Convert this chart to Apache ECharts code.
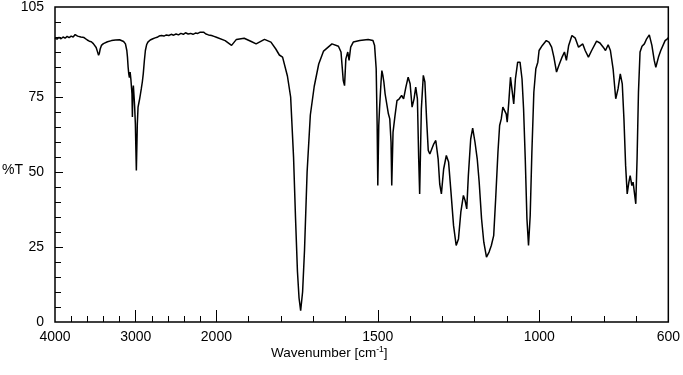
<!DOCTYPE html>
<html>
<head>
<meta charset="utf-8">
<script src="https://cdn.jsdelivr.net/npm/echarts@6/dist/echarts.min.js"></script>
<style>
  html, body { margin: 0; padding: 0; background: #fff; }
  #chart { width: 683px; height: 375px; }
</style>
</head>
<body>
<div id="chart"></div>
<script>
// 4000-2000 cm-1 (compressed part of the axis)
const highWn = [4000, 3975, 3950, 3925, 3900, 3875, 3850, 3825, 3800, 3775, 3750, 3735, 3720, 3700, 3680, 3660, 3640, 3620, 3600, 3575,
  3550, 3525, 3505, 3490, 3475, 3460, 3450, 3440, 3425, 3400, 3350, 3300, 3250, 3200, 3176, 3150, 3127, 3110, 3102, 3094,
  3086, 3078, 3069, 3060, 3053, 3046, 3041, 3036, 3029, 3020, 3013, 3004, 2998, 2992, 2986, 2980, 2971, 2961, 2951, 2941,
  2931, 2918, 2906, 2893, 2880, 2865, 2849, 2820, 2787, 2760, 2735, 2710, 2680, 2650, 2620, 2590, 2560, 2530, 2500, 2470,
  2440, 2410, 2383, 2350, 2320, 2290, 2260, 2230, 2200, 2180, 2159, 2130, 2098, 2060, 2030, 2000];
const highT = [94.6, 94.3, 94.9, 94.4, 95.0, 94.6, 95.2, 94.8, 95.3, 95.0, 95.8, 96.2, 95.3, 95.6, 95.0, 94.6, 94.8, 94.2, 94.0, 93.6,
  93.4, 92.8, 92.3, 91.5, 90.2, 88.9, 89.6, 91.0, 92.2, 92.8, 93.4, 93.8, 94.0, 94.1, 93.8, 93.5, 92.7, 90.5, 88.3, 85.0,
  82.7, 81.5, 83.3, 81.0, 80.5, 76.0, 68.3, 76.5, 78.8, 75.0, 71.7, 66.0, 58.0, 50.5, 58.0, 66.0, 71.6, 73.0, 74.4, 76.0,
  77.7, 80.0, 82.8, 87.0, 90.5, 92.4, 93.3, 94.0, 94.4, 94.7, 94.9, 95.3, 95.5, 95.3, 95.7, 95.5, 95.9, 95.6, 96.0, 95.7,
  96.2, 95.9, 96.4, 96.0, 96.2, 95.9, 96.3, 96.2, 96.6, 96.4, 96.6, 96.0, 95.7, 95.5, 95.2, 94.9];

// 2000-1500 cm-1
const midWn = [1973, 1953, 1938, 1914, 1892, 1877, 1851, 1831, 1816, 1805, 1795, 1780, 1770, 1761, 1755, 1749, 1744, 1739, 1733, 1727,
  1719, 1709, 1697, 1683, 1668, 1642, 1622, 1614, 1607, 1603, 1599, 1593, 1589, 1584, 1576, 1556, 1530, 1515, 1510, 1505, 1502];
const midT = [93.8, 92.2, 94.2, 94.6, 93.5, 92.7, 94.2, 93.3, 91.0, 89.0, 88.3, 82.0, 75.0, 55.0, 35.0, 17.0, 8.0, 3.8, 10.0, 24.0,
  50.0, 69.0, 78.5, 86.0, 90.3, 92.7, 91.9, 90.0, 80.5, 78.8, 87.7, 90.0, 87.2, 91.6, 93.3, 93.8, 94.2, 93.8, 92.2, 84.4, 65.5];

// 1500-600 cm-1
const lowWn = [1500, 1497, 1494.7, 1490, 1487.4, 1484, 1481.2, 1477.3, 1473.3, 1467.2, 1462.9, 1459, 1456.8, 1452.8, 1446.7, 1440.6, 1433.5, 1426.2, 1420.1, 1413,
  1406, 1399.9, 1393.8, 1387.7, 1382.5, 1377.3, 1373.3, 1370.3, 1365.1, 1359, 1354.1, 1348.9, 1343.7, 1338.8, 1333.6, 1326.5, 1320.4, 1313.1, 1308.2, 1303,
  1296, 1287.7, 1280.7, 1273.3, 1265.4, 1257.2, 1250.1, 1242.8, 1234.8, 1229.6, 1224.4, 1219.5, 1212.2, 1206.1, 1199, 1192, 1185.9, 1178.6, 1171.6, 1163.3,
  1155.3, 1148.3, 1141, 1134.9, 1127.8, 1122.6, 1117.5, 1112.6, 1107.4, 1102.2, 1099.1, 1094.2, 1089, 1085, 1078.9, 1073.7, 1066.7, 1059.4, 1053.2, 1048.4,
  1043.2, 1038, 1033.1, 1027.9, 1022.7, 1016.6, 1010.4, 1004.3, 1000.4, 990.3, 978, 969.8, 961.5, 954.5, 946.3, 939.2, 929.1, 921.8, 915.7, 908.7,
  898.6, 888.2, 878.1, 865, 857.6, 847.5, 837.5, 822.2, 811.8, 801.6, 794.6, 786.4, 779.4, 771.1, 762.9, 755.8, 748.8, 742.7, 737.5, 732.3,
  727.4, 722.2, 718.2, 713, 709.1, 704.8, 700.8, 696.8, 692.5, 687.6, 681.5, 674.2, 667.1, 658.9, 650.9, 643.6, 638.7, 630.5, 623.4, 618.2,
  610, 603, 600];
const lowT = [45.5, 65.5, 71.0, 80.0, 83.8, 82.0, 80.0, 76.0, 75.5, 69.4, 67.7, 60.0, 45.5, 63.3, 68.8, 73.8, 74.4, 75.5, 74.4, 78.3,
  81.6, 79.4, 71.6, 74.4, 78.3, 74.4, 54.4, 42.7, 71.0, 82.2, 80.0, 67.7, 57.2, 56.0, 55.5, 59.4, 60.5, 54.4, 46.0, 42.7,
  51.0, 55.5, 53.3, 43.3, 32.2, 25.5, 27.7, 36.6, 42.2, 40.5, 37.7, 48.8, 61.0, 64.6, 60.0, 54.4, 46.6, 34.4, 26.6, 21.6,
  23.3, 25.5, 28.8, 41.0, 56.6, 65.5, 67.7, 71.6, 72.2, 69.4, 66.6, 73.3, 81.6, 82.2, 72.7, 81.0, 86.6, 86.6, 81.0, 71.0,
  54.4, 34.4, 25.5, 35.5, 56.6, 76.6, 84.4, 86.6, 90.5, 92.2, 93.8, 93.3, 91.6, 88.3, 83.3, 85.5, 88.3, 90.0, 87.2, 92.2,
  95.5, 94.6, 91.6, 92.7, 90.5, 88.3, 90.5, 93.6, 93.0, 91.6, 90.5, 92.4, 90.5, 84.4, 74.4, 77.7, 82.7, 79.4, 67.7, 52.2,
  42.7, 46.6, 48.8, 45.5, 46.6, 46.0, 39.4, 54.4, 76.6, 90.0, 91.9, 92.7, 94.4, 95.7, 92.2, 87.2, 84.9, 88.3, 90.5, 91.0,
  93.8, 94.4, 94.8];

const xLabels = [4000, 3000, 2000, 1500, 1000, 600];
const xMajorTicks = [3000, 2000, 1500, 1000];
const xMinorTicks = [3800, 3600, 3400, 3200, 2800, 2600, 2400, 2200, 1900, 1800, 1700, 1600, 1400, 1300, 1200, 1100, 900, 800, 700];
const yLabels = [0, 25, 50, 75, 105];
const yMajorTicks = [25, 50, 75];
const yMinorTicks = [5, 10, 15, 20, 30, 35, 40, 45, 55, 60, 65, 70, 80, 85, 90, 95, 100];

// axis is split at 2000 cm-1: the part above 2000 is squeezed 4x
const toAxis = w => (w >= 2000 ? (4000 - w) / 4 : 500 + (2000 - w));
const fromAxis = t => (t <= 500 ? 4000 - t * 4 : 2000 - (t - 500));

const wn = [...highWn, ...midWn, ...lowWn];
const tr = [...highT, ...midT, ...lowT];
const data = wn.map((w, i) => [toAxis(w), tr[i]]);

const font = 'Liberation Sans, Arial, sans-serif';
const chart = echarts.init(document.getElementById('chart'));

const xBase = {
  type: 'value', min: 0, max: 1900, position: 'bottom',
  splitLine: { show: false },
  axisLine: { show: false }
};
const yBase = {
  type: 'value', min: 0, max: 105, position: 'left',
  splitLine: { show: false },
  axisLine: { show: false }
};

chart.setOption({
  animation: false,
  backgroundColor: '#fff',
  grid: {
    left: 55, top: 7, width: 621, height: 315,
    show: true, borderColor: '#000', borderWidth: 1.5, backgroundColor: 'transparent'
  },
  xAxis: [
    {
      ...xBase,
      axisTick: { inside: true, length: 6, lineStyle: { color: '#000', width: 1 }, customValues: xMinorTicks.map(toAxis) },
      axisLabel: { show: false }
    },
    {
      ...xBase,
      axisTick: { inside: true, length: 12, lineStyle: { color: '#000', width: 1 }, customValues: xMajorTicks.map(toAxis) },
      axisLabel: {
        customValues: xLabels.map(toAxis), showMinLabel: true, showMaxLabel: true,
        formatter: v => String(Math.round(fromAxis(v))),
        color: '#000', fontFamily: font, fontSize: 14, margin: 8
      }
    }
  ],
  yAxis: [
    {
      ...yBase,
      axisTick: { inside: true, length: 6, lineStyle: { color: '#000', width: 1 }, customValues: yMinorTicks },
      axisLabel: { show: false }
    },
    {
      ...yBase,
      axisTick: { inside: true, length: 8, lineStyle: { color: '#000', width: 1 }, customValues: yMajorTicks },
      axisLabel: {
        customValues: yLabels, showMinLabel: true, showMaxLabel: true,
        color: '#000', fontFamily: font, fontSize: 14, margin: 11
      }
    }
  ],
  graphic: [
    {
      type: 'text', left: 2, top: 163,
      style: { text: '%T', fontFamily: font, fontSize: 14, fill: '#000' }
    },
    {
      type: 'text', left: 271, top: 345,
      style: {
        text: '{n|Wavenumber [cm}{s|-1}{n|]}',
        rich: {
          n: { fontFamily: font, fontSize: 13.5, lineHeight: 17, fill: '#000' },
          s: { fontFamily: font, fontSize: 8.5, lineHeight: 17, verticalAlign: 'top', fill: '#000' }
        }
      }
    }
  ],
  series: [{
    type: 'line',
    data: data,
    showSymbol: false,
    xAxisIndex: 0,
    yAxisIndex: 0,
    lineStyle: { color: '#000', width: 1.5 },
    z: 3
  }]
});
</script>
</body>
</html>
